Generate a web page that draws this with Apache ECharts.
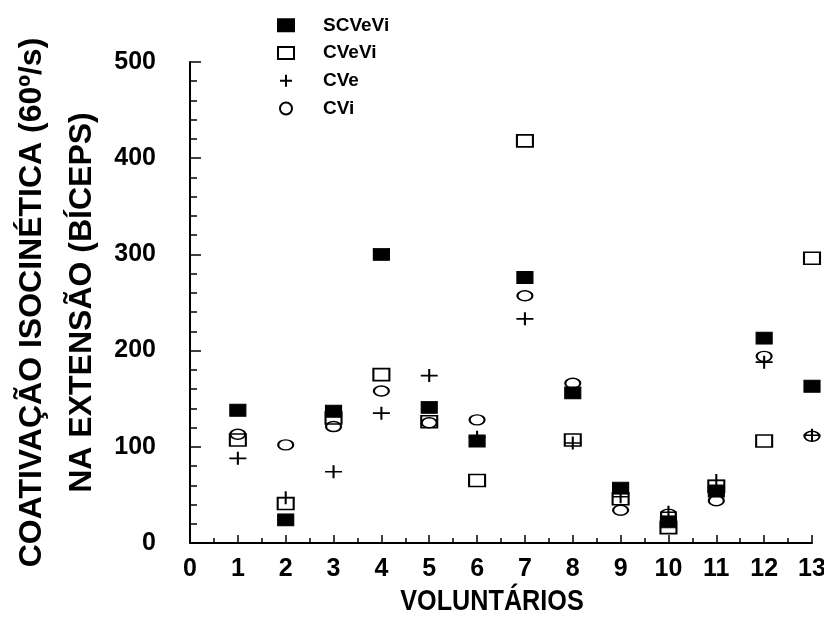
<!DOCTYPE html>
<html>
<head>
<meta charset="utf-8">
<script src="https://cdn.jsdelivr.net/npm/echarts@6/dist/echarts.min.js"></script>
<style>
  html, body { margin: 0; padding: 0; background: #fff; }
  #chart { width: 824px; height: 619px; }
</style>
</head>
<body>
<div id="chart"></div>
<script>
// Voluntários 1..13
const voluntarios = [1, 2, 3, 4, 5, 6, 7, 8, 9, 10, 11, 12, 13];

// Coativação isocinética (60º/s) na extensão, bíceps
const scVeVi = [138, 24, 137, 300, 141, 106, 276, 156, 57, 22, 54, 213, 163];
const cVeVi  = [107, 41, 130, 175, 126, 65, 418, 107, 46, 16, 59, 106, 296];
const cVe    = [88, 47, 74, 135, 174, 110, 233, 104, 48, 32, 65, 188, 112];
const cVi    = [113, 102, 121, 158, 125, 128, 257, 166, 34, 30, 44, 194, 111];

const seriesNames = ['SCVeVi', 'CVeVi', 'CVe', 'CVi'];
const xTitle = 'VOLUNTÁRIOS';

const FONT = '"Liberation Sans", Arial, sans-serif';
const pairs = vals => voluntarios.map((v, i) => [v, vals[i]]);
const plusPath = 'path://M0,6L12,6M6,0L6,12';

const chart = echarts.init(document.getElementById('chart'), null, { renderer: 'canvas' });

chart.setOption({
  animation: false,
  backgroundColor: '#ffffff',
  grid: { left: 190, right: 12, top: 62, bottom: 76, containLabel: false, outerBoundsMode: 'none' },
  legend: {
    data: seriesNames,
    orient: 'vertical',
    left: 272,
    top: 9,
    itemWidth: 16,
    itemHeight: 12,
    itemGap: 5,
    textStyle: {
      fontFamily: FONT, fontWeight: 'bold', fontSize: 19, color: '#000',
      lineHeight: 22.7, padding: [0, 0, 0, 24]
    }
  },
  // x-axis title, drawn slightly condensed
  graphic: [{
    type: 'text',
    x: 492, y: 602,
    scaleX: 0.84,
    style: {
      text: xTitle,
      font: 'bold 30px ' + FONT,
      fill: '#000',
      align: 'center',
      verticalAlign: 'middle'
    }
  }],
  xAxis: {
    type: 'value',
    min: 0, max: 13, interval: 1,
    axisLine: { show: true, onZero: false, lineStyle: { color: '#000', width: 2 } },
    axisTick: { show: true, inside: true, length: 8, lineStyle: { color: '#000', width: 1.5 } },
    minorTick: { show: true, splitNumber: 2, length: 5, lineStyle: { color: '#000', width: 1.5 } },
    axisLabel: { fontFamily: FONT, fontWeight: 'bold', fontSize: 25, color: '#000', margin: 14 },
    splitLine: { show: false }
  },
  yAxis: {
    type: 'value',
    min: 0, max: 500, interval: 100,
    name: 'COATIVAÇÃO ISOCINÉTICA (60º/s)\nNA EXTENSÃO (BÍCEPS)',
    nameLocation: 'middle',
    nameRotate: 90,
    nameGap: 83,
    nameMoveOverlap: false,
    nameTextStyle: { fontFamily: FONT, fontWeight: 'bold', fontSize: 32, color: '#000', lineHeight: 50 },
    axisLine: { show: true, onZero: false, lineStyle: { color: '#000', width: 2 } },
    axisTick: { show: true, inside: true, length: 11, lineStyle: { color: '#000', width: 1.5 } },
    minorTick: { show: true, splitNumber: 5, length: 7, lineStyle: { color: '#000', width: 1.5 } },
    axisLabel: { fontFamily: FONT, fontWeight: 'bold', fontSize: 25, color: '#000', margin: 34 },
    splitLine: { show: false }
  },
  series: [
    {
      name: 'CVeVi', type: 'scatter', z: 2,
      data: pairs(cVeVi),
      symbol: 'rect', symbolSize: [16, 12],
      itemStyle: { color: 'rgba(255,255,255,0)', borderColor: '#000', borderWidth: 1.8, opacity: 1 }
    },
    {
      name: 'CVe', type: 'scatter', z: 3,
      data: pairs(cVe),
      symbol: plusPath, symbolSize: [17, 13],
      itemStyle: { color: 'rgba(255,255,255,0)', borderColor: '#000', borderWidth: 1.8, opacity: 1 }
    },
    {
      name: 'CVi', type: 'scatter', z: 4,
      data: pairs(cVi),
      symbol: 'circle', symbolSize: [15, 10],
      itemStyle: { color: 'rgba(255,255,255,0)', borderColor: '#000', borderWidth: 1.8, opacity: 1 }
    },
    {
      name: 'SCVeVi', type: 'scatter', z: 5,
      data: pairs(scVeVi),
      symbol: 'rect', symbolSize: [16, 12],
      itemStyle: { color: '#000', borderColor: '#000', borderWidth: 1, opacity: 1 }
    }
  ]
});
</script>
</body>
</html>
